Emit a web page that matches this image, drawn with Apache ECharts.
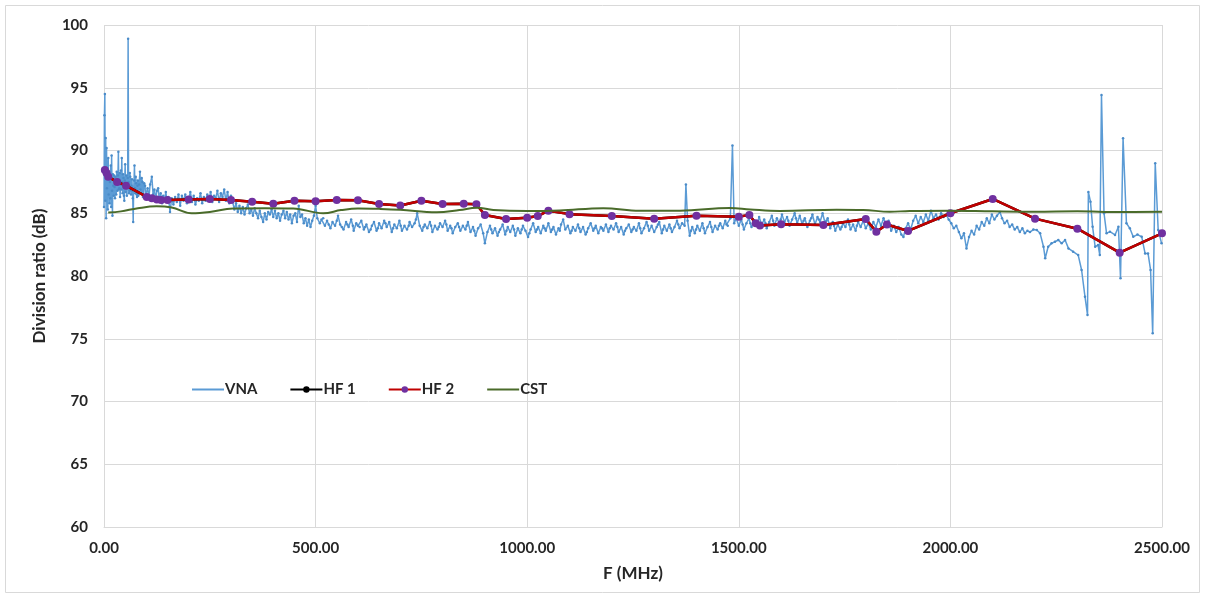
<!DOCTYPE html>
<html>
<head>
<meta charset="utf-8">
<script src="https://cdn.jsdelivr.net/npm/echarts@6/dist/echarts.min.js"></script>
<style>html,body{margin:0;padding:0;background:#fff;}#c{width:1205px;height:598px;}</style>
</head>
<body>
<div id="c"></div>
<script>
// X ticks (MHz) and Y ticks (dB)
const xTicks = [0, 500, 1000, 1500, 2000, 2500];
const yTicks = [60, 65, 70, 75, 80, 85, 90, 95, 100];

// VNA measurement [F (MHz), ratio (dB)]
const vna = [
[0,85.5],[1,92.8],[2,94.5],[3,86.0],[4,91.0],[5,84.6],[6,90.2],[7,87.0],[8,88.5],[9,85.3],[10,89.4],[11,86.5],[12,88.0],[13,85.8],[14,87.5],[15,86.2],[16,88.8],[17,85.5],[18,89.6],[19,86.8],[20,84.8],[21,88.1],[22,87.2],[23,86.4],[24,88.0],[25,87.1],[26,86.2],[27,87.9],[28,87.6],[29,86.5],[30,88.3],[31,87.4],[32,86.8],[33,88.0],[34,89.9],[35,86.9],[36,87.0],[37,88.2],[38,86.3],[39,87.3],[40,88.4],[41,86.9],[42,89.4],[43,87.5],[44,86.6],[45,88.1],[46,87.8],[47,86.4],[48,86.0],[49,87.6],[50,88.9],[51,86.7],[52,87.2],[53,88.0],[54,86.4],[55,87.1],[56,87.8],[57,98.9],[58,87.5],[59,86.6],[60,86.8],[61,88.2],[62,87.9],[63,86.9],[64,86.5],[65,87.2],[66,87.7],[67,86.8],[68,86.2],[69,84.3],[70,86.9],[71,87.6],[72,88.8],[73,87.0],[74,86.6],[75,87.9],[76,87.4],[77,86.5],[78,86.3],[79,87.2],[80,87.6],[81,86.4],[82,86.7],[83,87.3],[85,88.3],[86,86.9],[88,86.6],[89,87.8],[91,87.5],[92,86.3],[94,86.4],[95,87.4],[97,87.2],[98,86.4],[100,86.5],
[103,87.0],[106,86.2],[109,87.3],[113,87.9],[116,86.5],[119,86.9],[122,86.1],[125,86.8],[128,87.0],[131,86.0],[134,86.6],[137,85.8],[140,86.4],[143,86.0],[146,86.7],[149,85.9],[152,86.3],[156,85.1],[160,86.2],[164,85.7],[168,86.3],[172,85.9],[176,86.5],[180,85.6],[184,86.4],[188,86.0],[192,86.5],[196,85.8],[200,86.1],[204,86.7],[208,85.9],[212,86.4],[216,85.7],[220,86.2],[224,86.0],[228,86.6],[232,85.8],[236,86.3],[240,86.0],[244,86.5],[248,86.1],[252,86.7],[256,85.9],[260,86.4],[264,86.2],[268,86.8],[272,85.9],[276,86.6],[280,86.3],[284,86.9],[288,86.0],[292,86.7],[296,85.8],[300,86.4],
[304,85.9],[308,85.3],[312,85.8],[316,85.1],[320,85.6],[324,85.0],[328,85.5],[332,84.9],[336,85.4],[340,85.7],[344,85.0],[348,85.3],[352,84.8],[356,85.4],[360,85.0],[364,84.6],[368,85.2],[372,84.7],[376,84.3],[380,85.0],[384,84.5],[388,85.1],[392,84.9],[396,85.3],[400,84.7],[404,85.2],[408,84.6],[412,85.0],[416,84.4],[420,84.9],[424,85.2],[428,84.6],[432,85.1],[436,84.5],[440,84.9],[444,84.2],[448,84.8],[452,85.0],[456,84.3],[460,85.6],[464,84.7],[468,84.9],[472,84.2],[476,84.6],[480,84.0],[484,84.5],[488,83.9],[492,84.4],[496,84.8],[500,85.6],[504,84.6],
[510,84.2],[514,84.5],[518,84.6],[522,84.0],[527,84.4],[531,84.1],[535,83.8],[540,84.3],[546,84.0],[550,84.4],[553,84.8],[558,84.1],[562,83.9],[566,83.7],[572,84.3],[575,84.1],[578,83.9],[584,84.5],[588,84.0],[590,83.6],[596,84.2],[600,84.0],[604,83.9],[608,84.4],[614,83.7],[617,83.9],[620,84.1],[626,83.5],[630,83.7],[633,84.0],[638,84.3],[644,83.6],[647,83.8],[650,84.2],[656,83.8],[662,84.4],[665,84.2],[668,83.9],[674,84.3],[680,83.5],[683,83.8],[686,84.1],[692,83.8],[698,84.4],[701,84.0],[704,83.6],[710,84.0],[716,83.7],[720,84.0],[722,84.3],[728,83.9],[734,84.2],[737,84.5],[740,85.0],[746,84.0],[752,83.6],[755,83.9],[758,84.1],[764,83.8],[770,84.3],[773,84.0],[776,83.5],[782,84.0],[788,83.7],[791,83.9],[794,84.2],[800,83.9],[806,84.4],[809,84.1],[812,83.6],[818,84.0],[821,83.8],[824,83.4],[830,83.9],[836,84.2],[839,83.9],[842,83.6],[848,84.0],[854,83.7],[857,84.0],[860,84.3],[866,83.5],[872,83.9],[875,83.6],[878,83.2],[884,83.8],[890,84.1],[896,83.4],[900,82.6],[906,83.5],
[912,84.0],[915,83.7],[918,83.4],[924,83.8],[930,83.2],[933,83.5],[936,83.7],[942,84.1],[948,83.3],[951,83.6],[954,83.9],[960,83.5],[966,84.0],[969,83.7],[972,83.2],[978,83.8],[984,83.4],[987,83.7],[990,84.0],[996,83.6],[1002,83.1],[1005,83.4],[1008,83.7],[1014,84.2],[1020,83.5],[1023,83.7],[1026,83.9],[1032,83.4],[1038,84.0],[1041,83.8],[1044,83.6],[1050,84.2],[1056,83.5],[1059,83.7],[1062,83.9],[1068,83.3],[1074,83.8],[1077,83.6],[1080,84.1],[1085,84.5],[1090,83.7],[1096,84.0],[1102,83.4],[1105,83.6],[1108,83.9],[1114,83.6],[1120,84.1],[1123,83.8],[1126,83.5],[1132,83.9],[1138,83.3],[1141,83.5],[1144,83.8],[1150,84.2],[1156,83.6],[1159,83.8],[1162,84.0],[1168,83.4],[1174,83.9],[1177,83.8],[1180,83.6],[1186,84.1],[1192,83.5],[1195,83.8],[1198,84.0],[1204,83.7],[1210,84.2],[1213,83.9],[1216,83.5],[1222,83.9],[1228,83.3],[1231,83.6],[1234,83.8],[1240,84.1],[1246,83.5],[1249,83.7],[1252,83.9],[1258,83.6],[1264,84.2],[1267,83.8],[1270,83.4],[1276,83.8],[1282,84.3],[1285,84.0],[1288,83.6],[1294,84.0],[1300,83.5],
[1306,83.9],[1309,84.1],[1312,84.3],[1318,83.4],[1321,83.7],[1324,84.0],[1330,83.6],[1336,84.1],[1339,83.8],[1342,83.5],[1348,83.9],[1354,84.4],[1357,84.1],[1360,83.8],[1366,84.2],[1372,84.0],[1375,87.3],[1379,84.4],[1384,83.2],[1387,83.6],[1390,83.9],[1396,83.4],[1399,83.7],[1402,84.0],[1408,83.6],[1414,84.2],[1417,83.8],[1420,83.4],[1426,83.9],[1432,84.3],[1435,83.9],[1438,83.5],[1444,84.0],[1450,83.7],[1453,84.0],[1456,84.2],[1462,83.8],[1468,84.4],[1471,84.1],[1474,84.0],[1480,84.6],[1485,90.4],[1489,84.2],[1494,84.6],
[1500,84.0],[1506,84.5],[1509,84.1],[1512,83.7],[1518,84.2],[1524,84.6],[1527,84.2],[1530,83.9],[1536,84.4],[1542,84.0],[1545,84.3],[1548,84.7],[1554,84.1],[1560,84.5],[1563,84.2],[1566,83.8],[1572,84.3],[1578,84.8],[1581,84.4],[1584,84.0],[1590,84.6],[1596,84.2],[1599,84.5],[1602,84.9],[1608,84.3],[1614,84.7],[1617,84.4],[1620,84.0],[1626,84.5],[1632,85.0],[1635,84.6],[1638,84.2],[1644,84.8],[1650,84.1],[1653,84.4],[1656,84.6],[1662,83.9],[1668,84.4],[1671,84.6],[1674,84.9],[1680,84.1],[1686,84.7],[1689,84.5],[1692,84.3],[1698,85.0],[1704,84.2],[1707,84.4],[1710,84.6],[1716,83.8],[1722,84.3],[1725,84.0],[1728,83.6],[1734,84.1],[1740,83.7],[1743,83.9],[1746,84.2],[1752,83.9],[1758,84.5],[1761,84.1],[1764,83.7],[1770,84.1],[1776,83.6],[1779,84.0],[1782,84.3],[1788,83.9],
[1794,84.4],[1800,83.8],[1806,84.2],[1812,83.7],[1818,84.3],[1824,83.9],[1830,84.5],[1836,84.0],[1842,84.6],[1848,84.1],[1854,84.4],[1860,83.6],[1866,84.0],[1872,83.5],[1878,83.9],[1884,83.3],[1889,83.1],[1894,83.8],[1900,84.2],[1906,83.7],[1912,84.4],[1918,84.8],[1924,84.2],[1930,84.7],[1936,84.3],[1942,84.9],[1948,84.4],[1954,85.2],[1960,84.6],[1966,84.9],[1972,84.5],[1978,85.0],[1984,84.7],[1990,84.9],[1996,84.5],
[2002,84.2],[2008,83.8],[2014,84.0],[2020,83.5],[2026,83.0],[2032,83.4],[2038,82.2],[2044,83.1],[2050,83.6],[2056,83.3],[2062,84.0],[2068,83.7],[2074,84.3],[2080,84.0],[2086,84.6],[2092,84.2],[2098,84.9],[2104,84.5],[2110,84.8],[2117,85.1],[2122,84.6],[2128,84.2],[2134,84.4],[2140,83.9],[2146,84.1],[2152,83.7],[2158,83.9],[2164,83.5],[2170,83.8],[2176,83.4],[2182,83.6],[2188,83.5],
[2196,83.7],[2204,83.67],[2212,83.4],[2220,82.33],[2224,81.41],[2231,82.33],[2239,82.6],[2247,82.73],[2255,82.87],[2263,82.6],[2271,82.87],[2279,82.2],[2290,81.94],[2302,81.67],[2310,80.48],[2318,78.35],[2324,76.9],[2326,86.7],[2331,85.92],[2336,83.93],[2342,82.33],[2349,82.47],[2353,81.67],[2357,94.42],[2363,85.0],[2369,83.4],[2377,83.53],[2389,83.27],[2397,83.93],[2402,79.82],[2408,90.97],[2416,84.2],[2424,83.8],[2432,83.13],[2442,83.3],[2452,83.13],[2460,81.8],[2467,81.8],[2473,80.48],[2478,75.43],[2484,88.98],[2491,83.67],[2499,82.6]
];

// HF 2 measurement [F (MHz), ratio (dB)]
const hf2 = [
[2,88.45],[6,88.2],[10,87.9],[31,87.5],[52,87.2],[101,86.3],[113,86.2],[125,86.1],[135,86.06],[150,86.06],[200,86.1],[250,86.14],[300,86.06],[350,85.92],[400,85.75],[450,86.0],[500,85.95],[550,86.06],[600,86.04],[650,85.74],[700,85.62],[750,86.0],[800,85.74],[850,85.75],[880,85.71],[900,84.86],[950,84.54],[1000,84.65],[1025,84.78],[1050,85.2],[1100,84.93],[1200,84.78],[1300,84.57],[1400,84.8],[1500,84.73],[1525,84.86],[1540,84.2],[1550,84.03],[1600,84.12],[1700,84.06],[1800,84.54],[1825,83.53],[1850,84.1],[1900,83.59],[2000,85.0],[2100,86.14],[2200,84.57],[2300,83.77],[2400,81.86],[2500,83.4]
];
// HF 1 measurement (coincides with HF 2, hidden underneath)
const hf1 = hf2.map(p => [p[0], p[1]]);

// CST simulation [F (MHz), ratio (dB)]
const cst = [
[10,85.05],[40,85.15],[80,85.4],[124,85.55],[160,85.45],[207,85.0],[250,85.1],[305,85.38],[380,85.4],[447,85.38],[518,85.0],[560,85.25],[600,85.38],[650,85.35],[700,85.28],[786,85.07],[840,85.25],[881,85.44],[920,85.26],[1000,85.18],[1077,85.22],[1180,85.4],[1266,85.2],[1361,85.2],[1479,85.42],[1527,85.3],[1597,85.18],[1731,85.28],[1794,85.26],[1857,85.12],[1904,85.18],[2000,85.2],[2100,85.15],[2200,85.12],[2300,85.15],[2400,85.1],[2500,85.12]
];

const FONT = 'Lato';
const chart = echarts.init(document.getElementById('c'));
chart.setOption({
  animation: false,
  backgroundColor: '#fff',
  graphic: [{type:'rect', shape:{x:5.5,y:5.5,width:1194,height:587}, style:{fill:'none', stroke:'#d9d9d9', lineWidth:1}, silent:true}],
  grid: {left: 104, right: 43, top: 25, bottom: 71, containLabel: false},
  legend: {
    left: 186, top: 377, itemGap: 32, itemWidth: 32, itemHeight: 8,
    textStyle: {fontFamily: FONT, fontWeight: 'bold', fontSize: 15, color: '#262626', padding:[0,0,0,-4]},
    data: [
      {name: 'VNA', itemStyle: {opacity: 0}},
      'HF 1',
      'HF 2',
      {name: 'CST', itemStyle: {opacity: 0}}
    ]
  },
  xAxis: {
    type: 'value', min: xTicks[0], max: xTicks[xTicks.length-1], interval: 500,
    name: 'F (MHz)', nameLocation: 'middle', nameGap: 38,
    nameTextStyle: {fontFamily: FONT, fontWeight: 'bold', fontSize: 17, color: '#262626'},
    axisLine: {show: true, lineStyle: {color: '#d9d9d9'}},
    axisTick: {show: false},
    axisLabel: {fontFamily: FONT, fontWeight: 'bold', fontSize: 15, color: '#262626', margin: 14, formatter: v => v.toFixed(2)},
    splitLine: {show: true, lineStyle: {color: '#d9d9d9', width: 1}}
  },
  yAxis: {
    type: 'value', min: yTicks[0], max: yTicks[yTicks.length-1], interval: 5,
    name: 'Division ratio (dB)', nameLocation: 'middle', nameGap: 56, nameRotate: 90,
    nameTextStyle: {fontFamily: FONT, fontWeight: 'bold', fontSize: 17, color: '#262626'},
    axisLine: {show: false}, axisTick: {show: false},
    axisLabel: {fontFamily: FONT, fontWeight: 'bold', fontSize: 15, color: '#262626', margin: 16},
    splitLine: {show: true, lineStyle: {color: '#d9d9d9', width: 1}}
  },
  series: [
    {name: 'VNA', type: 'line', data: vna, symbol: 'circle', symbolSize: 2.5, showAllSymbol: true,
     lineStyle: {color: '#5b9bd5', width: 1.5}, itemStyle: {color: '#4a8bc8'}, z: 2},
    {name: 'HF 1', type: 'line', data: hf1, symbol: 'circle', symbolSize: 5,
     lineStyle: {color: '#000', width: 2.5}, itemStyle: {color: '#000'}, z: 3},
    {name: 'HF 2', type: 'line', data: hf2, symbol: 'circle', symbolSize: 8,
     lineStyle: {color: '#c00000', width: 2.5}, itemStyle: {color: '#7030a0'}, z: 4},
    {name: 'CST', type: 'line', data: cst, symbol: 'none', smooth: 0.4,
     lineStyle: {color: '#4a6b2a', width: 2}, itemStyle: {color: '#4a6b2a'}, z: 5}
  ]
});
</script>
</body>
</html>
